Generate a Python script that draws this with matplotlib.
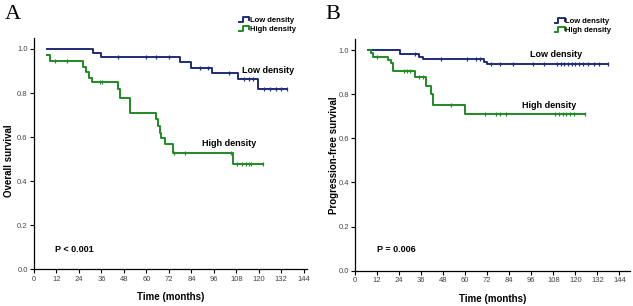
import numpy as np
import matplotlib
matplotlib.use('Agg')
import matplotlib.pyplot as plt
from matplotlib.lines import Line2D
from matplotlib.legend_handler import HandlerBase

plt.rcParams['font.family'] = ['Liberation Sans', 'DejaVu Sans']

# panel A - overall survival
os_low_start = 7
os_low_times = [31.5, 36, 78, 84, 95, 109, 119.5]
os_low_surv = [0.983, 0.962, 0.942, 0.915, 0.893, 0.865, 0.817]
os_low_cens = [45, 60, 65, 72, 88.5, 93, 104, 112, 115, 117, 123, 126, 129, 132, 135]
os_low_end = 135

os_high_start = 7
os_high_first = 0.973
os_high_times = [8.5, 26, 27.5, 29.5, 31, 45, 46, 51, 65, 66, 67, 68, 70, 74, 106]
os_high_surv = [0.945, 0.92, 0.895, 0.87, 0.851, 0.82, 0.776, 0.708, 0.68, 0.65,
                0.62, 0.598, 0.568, 0.529, 0.477]
os_high_cens = [11, 17.5, 35, 36.5, 74.5, 80.5, 105, 108.5, 111, 113, 114.5, 116, 122]
os_high_end = 122

# panel B - progression-free survival
pfs_low_start = 7
pfs_low_times = [24.3, 35, 37, 70, 72]
pfs_low_surv = [0.983, 0.97, 0.96, 0.948, 0.935]
pfs_low_cens = [32.5, 47, 61, 66, 68, 74, 79, 86, 96.7, 103, 110, 112, 114, 116, 118,
                120, 122, 124, 127, 130, 133, 137.5]
pfs_low_end = 138

pfs_high_start = 7
pfs_high_times = [8.7, 9.5, 18, 19.4, 20.6, 32.4, 38.8, 41.5, 42.4, 59.6]
pfs_high_surv = [0.985, 0.97, 0.955, 0.94, 0.905, 0.877, 0.835, 0.80, 0.75, 0.71]
pfs_high_cens = [12, 26.6, 28, 29.7, 35, 37, 52, 71, 77, 79, 82, 109, 111, 113, 115,
                 117, 119, 125]
pfs_high_end = 125

x_ticks = list(range(0, 145, 12))
y_ticks = [0.0, 0.2, 0.4, 0.6, 0.8, 1.0]

BLUE = '#1f2d78'
GREEN = '#1f8a24'


class StepHandler(HandlerBase):
    def create_artists(self, legend, orig_handle, xdescent, ydescent, width, height, fontsize, trans):
        xs = np.array([0, 0.35, 0.35, 1.0, 1.0]) * width - xdescent
        ys = np.array([0.05, 0.05, 0.95, 0.95, 0.35]) * height - ydescent
        return [Line2D(xs, ys, color=orig_handle.get_color(), lw=1.4, transform=trans)]


def km(ax, start, first, times, surv, cens, end, color):
    x = [start] + list(times) + [end]
    y = [first] + list(surv) + [surv[-1]]
    ax.step(x, y, where='post', color=color, lw=1.4)
    idx = np.searchsorted(x, cens, side='right') - 1
    cy = np.array(y)[idx]
    ax.plot(cens, cy, ls='none', marker='|', ms=3.5, mew=0.9, color=color)


def style(ax, xmax):
    ax.set_xlim(0, xmax)
    ax.set_ylim(0, 1.05)
    ax.set_xticks(x_ticks)
    ax.set_yticks(y_ticks)
    ax.set_yticklabels(['%.1f' % v for v in y_ticks])
    for s in ['top', 'right']:
        ax.spines[s].set_visible(False)
    for s in ['left', 'bottom']:
        ax.spines[s].set_linewidth(0.9)
    ax.tick_params(labelsize=5.5, labelcolor='#444444', length=3, width=0.8, pad=1.5)
    ax.set_xlabel('Time (months)', fontsize=7, fontweight='bold')
    ax.xaxis.set_label_coords(0.5, -0.10)


fig = plt.figure(figsize=(6.33, 3.06), dpi=100)
axA = fig.add_axes([0.0537, 0.12, 0.431, 0.756])
axB = fig.add_axes([0.561, 0.1154, 0.435, 0.757])

km(axA, os_low_start, 1.0, os_low_times, os_low_surv, os_low_cens, os_low_end, BLUE)
km(axA, os_high_start, os_high_first, os_high_times, os_high_surv, os_high_cens, os_high_end, GREEN)
style(axA, 145.6)
axA.set_ylabel('Overall survival', fontsize=7, fontweight='bold')
axA.yaxis.set_label_coords(-0.073, 0.47)
axA.text(111, 0.9, 'Low density', fontsize=6.5, fontweight='bold', va='center')
axA.text(89.6, 0.57, 'High density', fontsize=6.5, fontweight='bold', va='center')
axA.text(11, 0.092, 'P < 0.001', fontsize=6.5, fontweight='bold', va='center')

km(axB, pfs_low_start, 1.0, pfs_low_times, pfs_low_surv, pfs_low_cens, pfs_low_end, BLUE)
km(axB, pfs_high_start, 1.0, pfs_high_times, pfs_high_surv, pfs_high_cens, pfs_high_end, GREEN)
style(axB, 150)
axB.set_ylabel('Progression-free survival', fontsize=7, fontweight='bold')
axB.yaxis.set_label_coords(-0.057, 0.5)
axB.text(95, 0.98, 'Low density', fontsize=6.5, fontweight='bold', va='center')
axB.text(90.8, 0.75, 'High density', fontsize=6.5, fontweight='bold', va='center')
axB.text(11.8, 0.098, 'P = 0.006', fontsize=6.5, fontweight='bold', va='center')

for ax, bx in [(axA, 0.98), (axB, 0.95)]:
    handles = [Line2D([], [], color=BLUE), Line2D([], [], color=GREEN)]
    ax.legend(handles, ['Low density', 'High density'], handler_map={Line2D: StepHandler()},
              loc='upper right', bbox_to_anchor=(bx, 1.115), frameon=False,
              prop={'size': 5.5, 'weight': 'bold'}, handlelength=1.3, handletextpad=0.1,
              labelspacing=0.25, borderpad=0.2)

fig.text(0.008, 0.985, 'A', fontsize=16, family='Liberation Serif', va='top')
fig.text(0.514, 0.985, 'B', fontsize=16, family='Liberation Serif', va='top')

fig.savefig('out.png', dpi=100)
